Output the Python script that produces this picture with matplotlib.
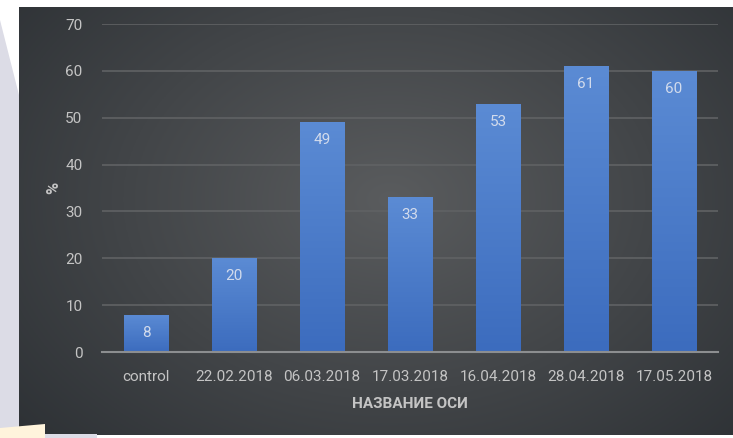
import numpy as np
import matplotlib
matplotlib.use("Agg")
import matplotlib.pyplot as plt
from matplotlib.patches import Rectangle, Polygon

categories = ["control", "22.02.2018", "06.03.2018", "17.03.2018", "16.04.2018", "28.04.2018", "17.05.2018"]
values = [8, 20, 49, 33, 53, 61, 60]
y_ticks = [0, 10, 20, 30, 40, 50, 60, 70]
x_title = "НАЗВАНИЕ ОСИ"
y_title = "%"

FONT = ["Liberation Sans Narrow", "Roboto", "DejaVu Sans"]
plt.rcParams["font.family"] = FONT

W, H = 733, 438
fig = plt.figure(figsize=(W / 100, H / 100), dpi=100, facecolor="white")


def P(px, py):
    return (px / W, 1 - py / H)


# surrounding decoration (page background)
fig.patches.append(Polygon([P(0, 20), P(19, 95), P(19, 438), P(0, 438)],
                           closed=True, transform=fig.transFigure, facecolor="#dcdce6", edgecolor="none", zorder=0))
fig.patches.append(Polygon([P(0, 428), P(45, 424), P(45, 438), P(0, 438)],
                           closed=True, transform=fig.transFigure, facecolor="#fff4dc", edgecolor="none", zorder=0))
fig.patches.append(Rectangle(P(45, 438), 52 / W, 4 / H, transform=fig.transFigure,
                             facecolor="#dcdce6", edgecolor="none", zorder=0))

# dark panel with radial gradient
pl, pb, pr, pt = 19 / W, 1 - 435 / H, 1.0, 1 - 7 / H
bg = fig.add_axes([pl, pb, pr - pl, pt - pb], zorder=0)
bg.set_axis_off()
yy, xx = np.mgrid[0:1:200j, 0:1:300j]
d = np.sqrt(((xx - 0.52) / 0.75) ** 2 + ((yy - 0.55) / 0.9) ** 2)
d = np.clip(d, 0, 1)
c_in = np.array([0x5a, 0x5c, 0x5e]) / 255
c_out = np.array([0x2a, 0x2e, 0x32]) / 255
img = c_in[None, None, :] * (1 - d[..., None]) + c_out[None, None, :] * d[..., None]
bg.imshow(img, extent=[0, 1, 0, 1], aspect="auto", origin="lower")
bg.set_xlim(0, 1)
bg.set_ylim(0, 1)

ax = fig.add_axes([102 / W, 1 - 352 / H, 616 / W, 328 / H], zorder=1)
ax.set_facecolor("none")
x = np.arange(len(categories))
bars = ax.bar(x, values, width=0.51, color="#4a7cca", zorder=3)

# vertical gradient inside bars
grad = np.linspace(0, 1, 100)[:, None]
top_c = np.array([0x5b, 0x8b, 0xd4]) / 255
bot_c = np.array([0x3c, 0x6c, 0xbe]) / 255
gimg = bot_c[None, None, :] * (1 - grad[..., None]) + top_c[None, None, :] * grad[..., None]
for b in bars:
    xb, wb, hb = b.get_x(), b.get_width(), b.get_height()
    im = ax.imshow(gimg, extent=[xb, xb + wb, 0, hb], origin="lower", aspect="auto", zorder=4)
    im.set_clip_path(b)
    ax.annotate(str(b.get_height()), (xb + wb / 2, hb), xytext=(0, -13), textcoords="offset points",
                ha="center", va="center", color="#d2dbec", fontsize=11, zorder=5)

ax.set_xlim(-0.5, len(categories) - 0.5)
ax.set_ylim(0, 70)
ax.set_yticks(y_ticks)
ax.set_xticks(x)
ax.set_xticklabels(categories)
ax.tick_params(axis="both", length=0, colors="#c4c4c4", labelsize=11)
ax.tick_params(axis="y", pad=14)
ax.tick_params(axis="x", pad=13)
ax.grid(axis="y", color="#606264", linewidth=1.2, zorder=1)
ax.set_axisbelow(True)
for s in ["top", "right", "left"]:
    ax.spines[s].set_visible(False)
ax.spines["bottom"].set_color("#8c8e90")
ax.spines["bottom"].set_linewidth(1.5)
ax.spines["bottom"].set_zorder(6)

ax.set_xlabel(x_title, color="#c4c4c4", fontsize=11, fontweight="bold", labelpad=9)
ax.set_ylabel(y_title, color="#c4c4c4", fontsize=12, fontweight="bold", labelpad=3)

fig.savefig("out.png", dpi=100, facecolor="white")
